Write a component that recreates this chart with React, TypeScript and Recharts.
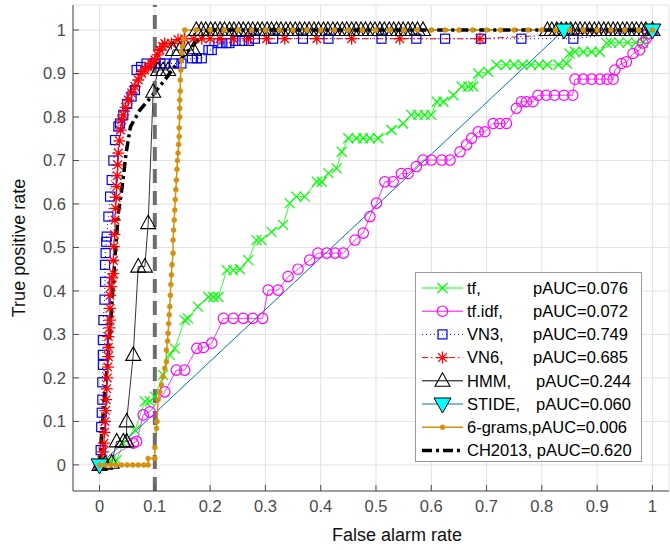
import React from 'react';
import { LineChart, Line, XAxis, YAxis, CartesianGrid, ReferenceLine } from 'recharts';

type Pt = [number, number];

const xTicks = [0, 0.1, 0.2, 0.3, 0.4, 0.5, 0.6, 0.7, 0.8, 0.9, 1];
const yTicks = [0, 0.1, 0.2, 0.3, 0.4, 0.5, 0.6, 0.7, 0.8, 0.9, 1];
const threshold = 0.1;

// series (false alarm rate, true positive rate)
const tfPts: Pt[] = [
    [0, 0], [0.02, 0.01], [0.031, 0.011], [0.043, 0.05], [0.064, 0.08], [0.082, 0.146], [0.091, 0.146],
    [0.1, 0.157], [0.115, 0.207], [0.127, 0.253], [0.136, 0.268], [0.154, 0.333], [0.16, 0.337], [0.178, 0.364],
    [0.197, 0.386], [0.206, 0.386], [0.215, 0.386], [0.23, 0.448], [0.242, 0.448], [0.254, 0.45], [0.269, 0.471],
    [0.284, 0.517], [0.293, 0.517], [0.311, 0.536], [0.332, 0.552], [0.344, 0.602], [0.356, 0.617], [0.371, 0.617],
    [0.393, 0.651], [0.402, 0.651], [0.414, 0.671], [0.429, 0.682], [0.438, 0.72], [0.45, 0.751], [0.465, 0.751],
    [0.477, 0.751], [0.489, 0.751], [0.504, 0.751], [0.528, 0.77], [0.549, 0.785], [0.564, 0.805], [0.576, 0.805],
    [0.588, 0.805], [0.6, 0.805], [0.61, 0.835], [0.622, 0.835], [0.64, 0.85], [0.655, 0.87], [0.667, 0.87],
    [0.676, 0.87], [0.685, 0.9], [0.703, 0.904], [0.718, 0.92], [0.735, 0.92], [0.75, 0.92], [0.765, 0.92],
    [0.78, 0.92], [0.795, 0.92], [0.81, 0.92], [0.83, 0.92], [0.845, 0.923], [0.85, 0.946], [0.86, 0.95],
    [0.875, 0.95], [0.89, 0.95], [0.905, 0.95], [0.917, 0.97], [0.925, 0.971], [0.94, 0.971], [0.955, 0.971],
    [0.97, 0.971], [0.983, 0.971], [0.986, 0.988], [1, 1],
];

const tfidfPts: Pt[] = [
    [0, 0], [0.061, 0.05], [0.067, 0.054], [0.079, 0.115], [0.091, 0.122], [0.118, 0.168], [0.139, 0.218],
    [0.154, 0.218], [0.176, 0.268], [0.188, 0.27], [0.203, 0.28], [0.224, 0.337], [0.242, 0.337], [0.26, 0.337],
    [0.277, 0.337], [0.295, 0.337], [0.305, 0.402], [0.323, 0.402], [0.341, 0.433], [0.359, 0.45], [0.38, 0.471],
    [0.395, 0.487], [0.411, 0.487], [0.426, 0.487], [0.441, 0.487], [0.462, 0.517], [0.477, 0.533], [0.489, 0.571],
    [0.501, 0.602], [0.516, 0.651], [0.531, 0.651], [0.546, 0.67], [0.558, 0.67], [0.573, 0.686], [0.585, 0.701],
    [0.6, 0.701], [0.619, 0.701], [0.634, 0.701], [0.652, 0.72], [0.664, 0.736], [0.673, 0.751], [0.685, 0.766],
    [0.697, 0.766], [0.712, 0.785], [0.724, 0.785], [0.736, 0.785], [0.754, 0.82], [0.763, 0.835], [0.772, 0.835],
    [0.784, 0.835], [0.793, 0.85], [0.808, 0.85], [0.823, 0.85], [0.84, 0.85], [0.856, 0.85], [0.86, 0.887],
    [0.875, 0.887], [0.89, 0.887], [0.905, 0.887], [0.918, 0.887], [0.929, 0.887], [0.932, 0.908], [0.944, 0.923],
    [0.953, 0.927], [0.965, 0.946], [0.977, 0.954], [0.983, 0.97], [0.989, 0.981], [0.992, 0.992], [1, 1],
];

const vn3Pts: Pt[] = [
    [0, 0], [0.002, 0.034], [0.003, 0.087], [0.004, 0.12], [0.005, 0.15], [0.005, 0.19], [0.006, 0.23],
    [0.006, 0.253], [0.006, 0.287], [0.007, 0.333], [0.009, 0.38], [0.01, 0.421], [0.01, 0.46], [0.011, 0.487],
    [0.012, 0.513], [0.013, 0.525], [0.016, 0.571], [0.019, 0.617], [0.022, 0.655], [0.025, 0.7], [0.028, 0.747],
    [0.034, 0.778], [0.037, 0.785], [0.043, 0.805], [0.05, 0.83], [0.058, 0.847], [0.064, 0.862], [0.067, 0.908],
    [0.075, 0.915], [0.085, 0.923], [0.1, 0.923], [0.11, 0.923], [0.118, 0.923], [0.135, 0.923], [0.148, 0.923],
    [0.167, 0.935], [0.176, 0.935], [0.185, 0.935], [0.197, 0.954], [0.203, 0.954], [0.215, 0.97], [0.222, 0.97],
    [0.229, 0.97], [0.235, 0.97], [0.246, 0.975], [0.258, 0.975], [0.27, 0.975], [0.281, 0.98], [0.314, 0.98],
    [0.368, 0.98], [0.414, 0.98], [0.51, 0.98], [0.573, 0.98], [0.625, 0.98], [0.69, 0.98], [0.763, 0.98],
    [0.857, 0.98], [1, 1],
];

const vn6Pts: Pt[] = [
    [0, 0], [0.004, 0.011], [0.006, 0.03], [0.008, 0.05], [0.009, 0.075], [0.01, 0.1], [0.011, 0.125],
    [0.012, 0.15], [0.013, 0.175], [0.014, 0.2], [0.015, 0.225], [0.016, 0.249], [0.016, 0.27], [0.016, 0.295],
    [0.018, 0.315], [0.019, 0.333], [0.019, 0.36], [0.019, 0.39], [0.021, 0.41], [0.023, 0.43], [0.025, 0.44],
    [0.025, 0.47], [0.026, 0.502], [0.027, 0.53], [0.028, 0.563], [0.029, 0.59], [0.03, 0.615], [0.031, 0.64],
    [0.032, 0.665], [0.033, 0.69], [0.034, 0.717], [0.036, 0.745], [0.038, 0.77], [0.04, 0.793], [0.043, 0.805],
    [0.047, 0.822], [0.052, 0.839], [0.058, 0.855], [0.064, 0.87], [0.07, 0.885], [0.076, 0.9], [0.082, 0.908],
    [0.088, 0.916], [0.094, 0.923], [0.1, 0.931], [0.105, 0.943], [0.109, 0.954], [0.114, 0.962], [0.118, 0.969],
    [0.13, 0.969], [0.142, 0.978], [0.154, 0.98], [0.17, 0.98], [0.185, 0.98], [0.2, 0.98], [0.218, 0.98],
    [0.242, 0.98], [0.269, 0.98], [0.302, 0.98], [0.335, 0.98], [0.393, 0.98], [0.456, 0.98], [0.543, 0.98],
    [0.688, 0.98], [1, 1],
];

const hmmPts: Pt[] = [
    [0, 0], [0.01, 0.003], [0.022, 0.005], [0.031, 0.054], [0.043, 0.054], [0.049, 0.054], [0.049, 0.1],
    [0.061, 0.253], [0.07, 0.456], [0.082, 0.456], [0.088, 0.556], [0.097, 0.858], [0.106, 0.908], [0.115, 0.908],
    [0.124, 0.908], [0.133, 0.954], [0.145, 0.954], [0.16, 0.954], [0.17, 0.954],
    [0.175, 1], [0.184, 1], [0.192, 1], [0.201, 1], [0.209, 1], [0.218, 1], [0.226, 1], [0.235, 1], [0.243, 1],
    [0.252, 1], [0.26, 1], [0.269, 1], [0.277, 1], [0.286, 1], [0.294, 1], [0.303, 1], [0.311, 1], [0.32, 1],
    [0.328, 1], [0.337, 1], [0.345, 1], [0.354, 1], [0.362, 1], [0.371, 1], [0.379, 1], [0.388, 1], [0.396, 1],
    [0.405, 1], [0.413, 1], [0.422, 1], [0.43, 1], [0.439, 1], [0.447, 1], [0.456, 1], [0.464, 1], [0.473, 1],
    [0.481, 1], [0.49, 1], [0.498, 1], [0.507, 1], [0.515, 1], [0.524, 1], [0.532, 1], [0.541, 1], [0.549, 1],
    [0.558, 1], [0.566, 1], [0.575, 1], [0.585, 1],
    [0.81, 1], [0.818, 1], [0.827, 1], [0.835, 1], [0.844, 1], [0.852, 1], [0.861, 1], [0.869, 1], [0.878, 1],
    [0.886, 1], [0.895, 1], [0.903, 1], [0.912, 1], [0.92, 1], [0.929, 1], [0.937, 1], [0.946, 1], [0.954, 1],
    [0.963, 1], [0.971, 1], [0.98, 1], [0.988, 1], [1, 1],
];

const stidePts: Pt[] = [[0, 0], [0.84, 1], [1, 1]];

const gramsPts: Pt[] = [
    [0, 0], [0.01, 0], [0.02, 0], [0.03, 0], [0.04, 0], [0.05, 0], [0.06, 0], [0.07, 0], [0.08, 0], [0.088, 0],
    [0.088, 0.015], [0.1, 0.015], [0.1, 0.04], [0.103, 0.084], [0.104, 0.1], [0.106, 0.15], [0.109, 0.168],
    [0.112, 0.184], [0.115, 0.203], [0.118, 0.222], [0.121, 0.237], [0.121, 0.264], [0.123, 0.285], [0.124, 0.303],
    [0.125, 0.325], [0.126, 0.345], [0.127, 0.364], [0.128, 0.39], [0.129, 0.415], [0.13, 0.437], [0.131, 0.46],
    [0.133, 0.487], [0.133, 0.517], [0.134, 0.54], [0.135, 0.563], [0.136, 0.586], [0.137, 0.61], [0.138, 0.633],
    [0.139, 0.655], [0.14, 0.68], [0.141, 0.7], [0.142, 0.717], [0.143, 0.737], [0.144, 0.755], [0.144, 0.775],
    [0.145, 0.8], [0.145, 0.82], [0.145, 0.839], [0.146, 0.86], [0.146, 0.885], [0.147, 0.908], [0.148, 0.93],
    [0.149, 0.947], [0.15, 0.962], [0.152, 0.98], [0.154, 1], [0.175, 1], [0.2, 1], [0.225, 1], [0.25, 1],
    [0.275, 1], [0.3, 1], [0.325, 1], [0.35, 1], [0.375, 1], [0.4, 1], [0.425, 1], [0.45, 1], [0.475, 1], [0.5, 1],
    [0.525, 1], [0.55, 1], [0.575, 1], [0.6, 1], [0.625, 1], [0.65, 1], [0.675, 1], [0.7, 1], [0.725, 1], [0.75, 1],
    [0.775, 1], [0.8, 1], [0.825, 1], [0.85, 1], [0.875, 1], [0.9, 1], [0.925, 1], [0.95, 1], [0.975, 1], [1, 1],
];

const ch2013Pts: Pt[] = [
    [0, 0], [0.007, 0.126], [0.016, 0.257], [0.022, 0.364], [0.028, 0.479], [0.034, 0.579], [0.041, 0.64],
    [0.048, 0.717], [0.056, 0.778], [0.073, 0.816], [0.094, 0.847], [0.118, 0.885], [0.136, 0.916],
    [0.154, 0.943], [0.172, 0.969], [0.19, 0.992], [0.2, 1], [1, 1],
];

const legendNames = ['tf,', 'tf.idf,', 'VN3,', 'VN6,', 'HMM,', 'STIDE,', '6-grams,pAUC=0.006', 'CH2013, pAUC=0.620'];
const legendAuc = ['pAUC=0.076', 'pAUC=0.072', 'pAUC=0.749', 'pAUC=0.685', 'pAUC=0.244', 'pAUC=0.060', '', ''];

const rows = (pts: Pt[]) => pts.map(([x, y]) => ({ x, y }));

const FONT = '"Liberation Sans", Arial, Helvetica, sans-serif';
const AXIS = '#4a4a4a';
const ORANGE = '#d4900f';

// marker shapes
const XMark = ({ cx, cy }: any) => (
    <path d={`M${cx - 5},${cy - 5}L${cx + 5},${cy + 5}M${cx - 5},${cy + 5}L${cx + 5},${cy - 5}`} stroke="#00ff00" strokeWidth={1.2} fill="none" />
);
const OMark = ({ cx, cy }: any) => <circle cx={cx} cy={cy} r={5.2} stroke="#ff00ff" strokeWidth={1.2} fill="none" />;
const SqMark = ({ cx, cy }: any) => <rect x={cx - 4.5} y={cy - 4.5} width={9} height={9} stroke="#0000ff" strokeWidth={1.2} fill="none" />;
const StarMark = ({ cx, cy }: any) => (
    <path
        d={`M${cx - 6},${cy}L${cx + 6},${cy}M${cx},${cy - 6}L${cx},${cy + 6}M${cx - 4.3},${cy - 4.3}L${cx + 4.3},${cy + 4.3}M${cx - 4.3},${cy + 4.3}L${cx + 4.3},${cy - 4.3}`}
        stroke="#ff0000"
        strokeWidth={1.3}
        fill="none"
    />
);
const TriMark = ({ cx, cy }: any) => (
    <path d={`M${cx},${cy - 8}L${cx - 7.5},${cy + 5.5}L${cx + 7.5},${cy + 5.5}Z`} stroke="#000" strokeWidth={1.1} fill="none" />
);
const DownMark = ({ cx, cy }: any) => (
    <path d={`M${cx - 8.5},${cy - 6}L${cx + 8.5},${cy - 6}L${cx},${cy + 9}Z`} stroke="#000" strokeWidth={1} fill="#00ffff" />
);
const DotMark = ({ cx, cy }: any) => <circle cx={cx} cy={cy} r={2.5} fill={ORANGE} stroke={ORANGE} strokeWidth={0.5} />;

const dotOf = (Shape: any) => (p: any) => {
    if (p.cx == null || p.cy == null) return <g key={p.index} />;
    return <Shape key={p.index} cx={p.cx} cy={p.cy} />;
};

const fmt = (v: number) => (v === 0 ? '0' : v === 1 ? '1' : v.toFixed(1));

const XTick = (p: any) => {
    const { x, y, payload } = p;
    return (
        <g>
            <line x1={x} x2={x} y1={y - 9} y2={y - 15} stroke={AXIS} strokeWidth={1} />
            <text x={x} y={y} dy="0.71em" textAnchor="middle" fontSize={16.5} fontFamily={FONT} fill={AXIS}>
                {fmt(payload.value)}
            </text>
        </g>
    );
};

const YTick = (p: any) => {
    const { x, y, payload } = p;
    return (
        <g>
            <line x1={x + 7} x2={x + 13} y1={y} y2={y} stroke={AXIS} strokeWidth={1} />
            <text x={x} y={y} dy="0.355em" textAnchor="end" fontSize={16.5} fontFamily={FONT} fill={AXIS}>
                {fmt(payload.value)}
            </text>
        </g>
    );
};

const XTitle = () => (
    <text x={397} y={541} textAnchor="middle" fontSize={18} fontFamily={FONT} fill="#111">
        False alarm rate
    </text>
);
const YTitle = () => (
    <text x={20} y={248} transform="rotate(-90 20 248)" textAnchor="middle" dominantBaseline="middle" fontSize={18} fontFamily={FONT} fill="#111">
        True positive rate
    </text>
);

// legend swatches: line style + marker
const swatches = [
    { stroke: '#00ff00', dash: undefined, width: 1, Mark: XMark },
    { stroke: '#ff00ff', dash: undefined, width: 1, Mark: OMark },
    { stroke: '#0000ff', dash: '1 3', width: 1, Mark: SqMark },
    { stroke: '#ff0000', dash: '6 3 1.5 3', width: 1, Mark: StarMark },
    { stroke: '#000000', dash: undefined, width: 1, Mark: TriMark },
    { stroke: '#0072bd', dash: undefined, width: 1, Mark: DownMark },
    { stroke: ORANGE, dash: undefined, width: 1.5, Mark: DotMark },
    { stroke: '#000000', dash: '10 4 3 4', width: 3.5, Mark: null },
];

const LegendBox = () => (
    <div style={{ position: 'absolute', left: 415, top: 272, width: 227, height: 190 }}>
        <svg width={227} height={190}>
            <rect x={0.5} y={0.5} width={226} height={189} fill="#fff" stroke="#9a9a9a" strokeWidth={1} />
            {legendNames.map((name, i) => {
                const cy = 16 + i * 23.2;
                const s = swatches[i];
                const M = s.Mark;
                return (
                    <g key={name}>
                        <line x1={7} x2={48} y1={cy} y2={cy} stroke={s.stroke} strokeWidth={s.width} strokeDasharray={s.dash} />
                        {M ? <M cx={27.5} cy={cy} /> : null}
                        <text x={52} y={cy} dy="0.35em" fontSize={16.5} fontFamily={FONT} fill="#000">
                            {name}
                        </text>
                        {legendAuc[i] ? (
                            <text x={i >= 4 ? 121 : 118} y={cy} dy="0.35em" fontSize={16.5} fontFamily={FONT} fill="#000">
                                {legendAuc[i]}
                            </text>
                        ) : null}
                    </g>
                );
            })}
        </svg>
    </div>
);

export default function App() {
    return (
        <div style={{ position: 'absolute', left: 0, top: 0, width: 670, height: 550, background: '#fff' }}>
            <LineChart width={670} height={550} margin={{ top: 5, right: 1, bottom: 29, left: 13 }}>
                <CartesianGrid stroke="#e2e2e2" strokeWidth={1} />
                <XAxis
                    type="number"
                    dataKey="x"
                    domain={[-0.048, 1.03]}
                    allowDataOverflow
                    ticks={xTicks}
                    interval={0}
                    height={30}
                    tickSize={0}
                    tickMargin={9}
                    tickLine={false}
                    axisLine={{ stroke: AXIS }}
                    tick={<XTick />}
                    label={<XTitle />}
                />
                <YAxis
                    type="number"
                    dataKey="y"
                    domain={[-0.06, 1.0575]}
                    allowDataOverflow
                    ticks={yTicks}
                    interval={0}
                    width={60}
                    tickSize={0}
                    tickMargin={7}
                    tickLine={false}
                    axisLine={{ stroke: AXIS }}
                    tick={<YTick />}
                    label={<YTitle />}
                />
                <Line data={rows(tfPts)} dataKey="y" stroke="#00ff00" strokeWidth={0.8} dot={dotOf(XMark)} activeDot={false} isAnimationActive={false} />
                <Line data={rows(tfidfPts)} dataKey="y" stroke="#ff00ff" strokeWidth={0.8} dot={dotOf(OMark)} activeDot={false} isAnimationActive={false} />
                <Line data={rows(vn3Pts)} dataKey="y" stroke="#0000ff" strokeWidth={1} strokeDasharray="1 3" dot={dotOf(SqMark)} activeDot={false} isAnimationActive={false} />
                <Line data={rows(vn6Pts)} dataKey="y" stroke="#ff0000" strokeWidth={1} strokeDasharray="6 3 1.5 3" dot={dotOf(StarMark)} activeDot={false} isAnimationActive={false} />
                <Line data={rows(hmmPts)} dataKey="y" stroke="#000000" strokeWidth={0.8} dot={dotOf(TriMark)} activeDot={false} isAnimationActive={false} />
                <Line data={rows(stidePts)} dataKey="y" stroke="#0072bd" strokeWidth={1} dot={dotOf(DownMark)} activeDot={false} isAnimationActive={false} />
                <Line data={rows(gramsPts)} dataKey="y" stroke={ORANGE} strokeWidth={1.5} dot={dotOf(DotMark)} activeDot={false} isAnimationActive={false} />
                <Line data={rows(ch2013Pts)} dataKey="y" stroke="#000000" strokeWidth={3.5} strokeDasharray="10 4 3 4" dot={false} activeDot={false} isAnimationActive={false} />
                <ReferenceLine x={threshold} stroke="#6e6e6e" strokeWidth={4} strokeDasharray="14 8" ifOverflow="extendDomain" />
            </LineChart>
            <LegendBox />
        </div>
    );
}
